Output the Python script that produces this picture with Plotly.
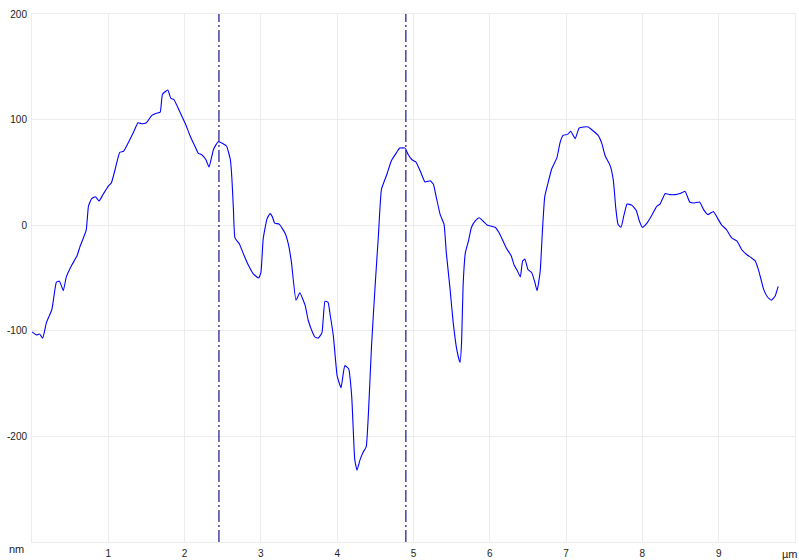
import plotly.graph_objects as go

# Profile data (µm, nm)
x_um = [0.00, 0.06, 0.10, 0.14, 0.19, 0.26, 0.32, 0.36, 0.41, 0.45, 0.52, 0.59, 0.63, 0.71, 0.74,
        0.78, 0.83, 0.88, 0.93, 1.00, 1.04, 1.09, 1.15, 1.20, 1.24, 1.33, 1.39, 1.44, 1.50, 1.57,
        1.63, 1.68, 1.71, 1.78, 1.82, 1.86, 1.94, 2.01, 2.07, 2.14, 2.18, 2.22, 2.28, 2.32, 2.38,
        2.44, 2.51, 2.55, 2.60, 2.62, 2.64, 2.66, 2.72, 2.77, 2.83, 2.90, 2.97, 3.00, 3.03, 3.08,
        3.12, 3.15, 3.18, 3.24, 3.32, 3.36, 3.40, 3.46, 3.51, 3.58, 3.62, 3.68, 3.71, 3.75, 3.80,
        3.84, 3.88, 3.91, 3.95, 4.00, 4.05, 4.08, 4.10, 4.15, 4.19, 4.21, 4.23, 4.26, 4.30, 4.34,
        4.38, 4.41, 4.45, 4.50, 4.54, 4.58, 4.65, 4.71, 4.78, 4.82, 4.89, 4.93, 4.98, 5.03, 5.09,
        5.15, 5.22, 5.26, 5.30, 5.35, 5.40, 5.43, 5.48, 5.52, 5.57, 5.61, 5.63, 5.65, 5.68, 5.72,
        5.76, 5.81, 5.86, 5.91, 5.97, 6.02, 6.07, 6.12, 6.18, 6.22, 6.28, 6.32, 6.36, 6.40, 6.43,
        6.46, 6.50, 6.55, 6.59, 6.62, 6.66, 6.69, 6.72, 6.77, 6.81, 6.88, 6.92, 6.96, 7.02, 7.06,
        7.12, 7.17, 7.23, 7.29, 7.36, 7.42, 7.47, 7.51, 7.58, 7.62, 7.65, 7.68, 7.72, 7.76, 7.80,
        7.86, 7.92, 7.96, 8.00, 8.06, 8.12, 8.19, 8.23, 8.30, 8.36, 8.43, 8.49, 8.56, 8.62, 8.68,
        8.75, 8.80, 8.86, 8.93, 8.99, 9.04, 9.10, 9.17, 9.24, 9.30, 9.37, 9.43, 9.48, 9.52, 9.55,
        9.59, 9.64, 9.69, 9.74, 9.78]
height_nm = [-101, -104, -103, -107, -92, -80, -54, -53, -62, -49, -38, -29, -20, -5, 18,
             25, 27, 23, 29, 37, 40, 53, 69, 70, 75, 88, 97, 96, 97, 104,
             106, 107, 124, 128, 120, 119, 107, 96, 85, 74, 68, 67, 62, 55, 72,
             79, 77, 75, 62, 44, 15, -12, -18, -27, -37, -46, -50, -45, -13, 6,
             11, 8, 2, 1, -8, -18, -35, -71, -64, -76, -90, -102, -106, -107, -102,
             -72, -73, -86, -105, -143, -154, -140, -133, -136, -162, -193, -222, -232, -222, -215,
             -210, -177, -114, -54, -10, 34, 48, 61, 69, 73, 73, 67, 62, 60, 51,
             41, 42, 39, 26, 10, 1, -26, -61, -92, -119, -130, -111, -57, -26, -15,
             -2, 4, 7, 4, 0, -1, -2, -7, -16, -22, -29, -38, -43, -49, -34,
             -32, -42, -45, -54, -62, -44, -5, 27, 42, 53, 64, 78, 85, 86, 89,
             82, 92, 93, 93, 89, 85, 77, 66, 56, 42, 17, 1, -2, 10, 20,
             19, 14, 4, -2, 2, 9, 18, 20, 30, 29, 29, 30, 32, 22, 21,
             22, 15, 10, 13, 6, 0, -4, -12, -15, -23, -28, -31, -34, -42, -50,
             -61, -68, -71, -67, -58]

cursor_um = [2.45, 4.90]

x_ticks = [1, 2, 3, 4, 5, 6, 7, 8, 9]
y_ticks = [200, 100, 0, -100, -200]
x_range = [0, 10]
y_range = [-300, 200]

fig = go.Figure()
fig.add_trace(go.Scatter(x=x_um, y=height_nm, mode="lines",
                         line=dict(color="#0000ff", width=1.1, shape="spline", smoothing=0.4),
                         showlegend=False, hoverinfo="skip"))

for cx in cursor_um:
    fig.add_trace(go.Scatter(x=[cx, cx], y=y_range, mode="lines",
                             line=dict(color="#000080", width=1.1, dash="12px,3px,2px,3px"),
                             showlegend=False, hoverinfo="skip"))

grid = "#ececec"
font = dict(family="Liberation Sans, Arial, sans-serif", size=10, color="#222222")

fig.update_layout(
    width=799, height=560,
    margin=dict(l=32, r=4, t=14, b=18, autoexpand=False),
    paper_bgcolor="white", plot_bgcolor="white",
    font=font,
    xaxis=dict(range=x_range, tickvals=x_ticks, ticktext=[str(v) for v in x_ticks],
               showgrid=True, gridcolor=grid, gridwidth=1, zeroline=False,
               showline=True, linecolor=grid, linewidth=1, mirror=True,
               ticks="", tickfont=font, ticklabelstandoff=2, automargin=False),
    yaxis=dict(range=y_range, tickvals=y_ticks, ticktext=[str(v) for v in y_ticks],
               showgrid=True, gridcolor=grid, gridwidth=1, zeroline=False,
               showline=True, linecolor=grid, linewidth=1, mirror=True,
               ticks="", tickfont=font, ticklabelstandoff=2, automargin=False),
    annotations=[
        dict(text="nm", xref="paper", yref="paper", x=0, y=0, xanchor="right", yanchor="top",
             xshift=-6, yshift=1, showarrow=False,
             font=dict(family=font["family"], size=11, color="#222222")),
        dict(text="µm", xref="paper", yref="paper", x=1, y=0, xanchor="right", yanchor="top",
             xshift=5, yshift=-4, showarrow=False,
             font=dict(family=font["family"], size=11, color="#222222")),
    ],
)

fig.write_html("out.html", config={"displayModeBar": False},
               post_script="document.body.style.margin='0px';")
